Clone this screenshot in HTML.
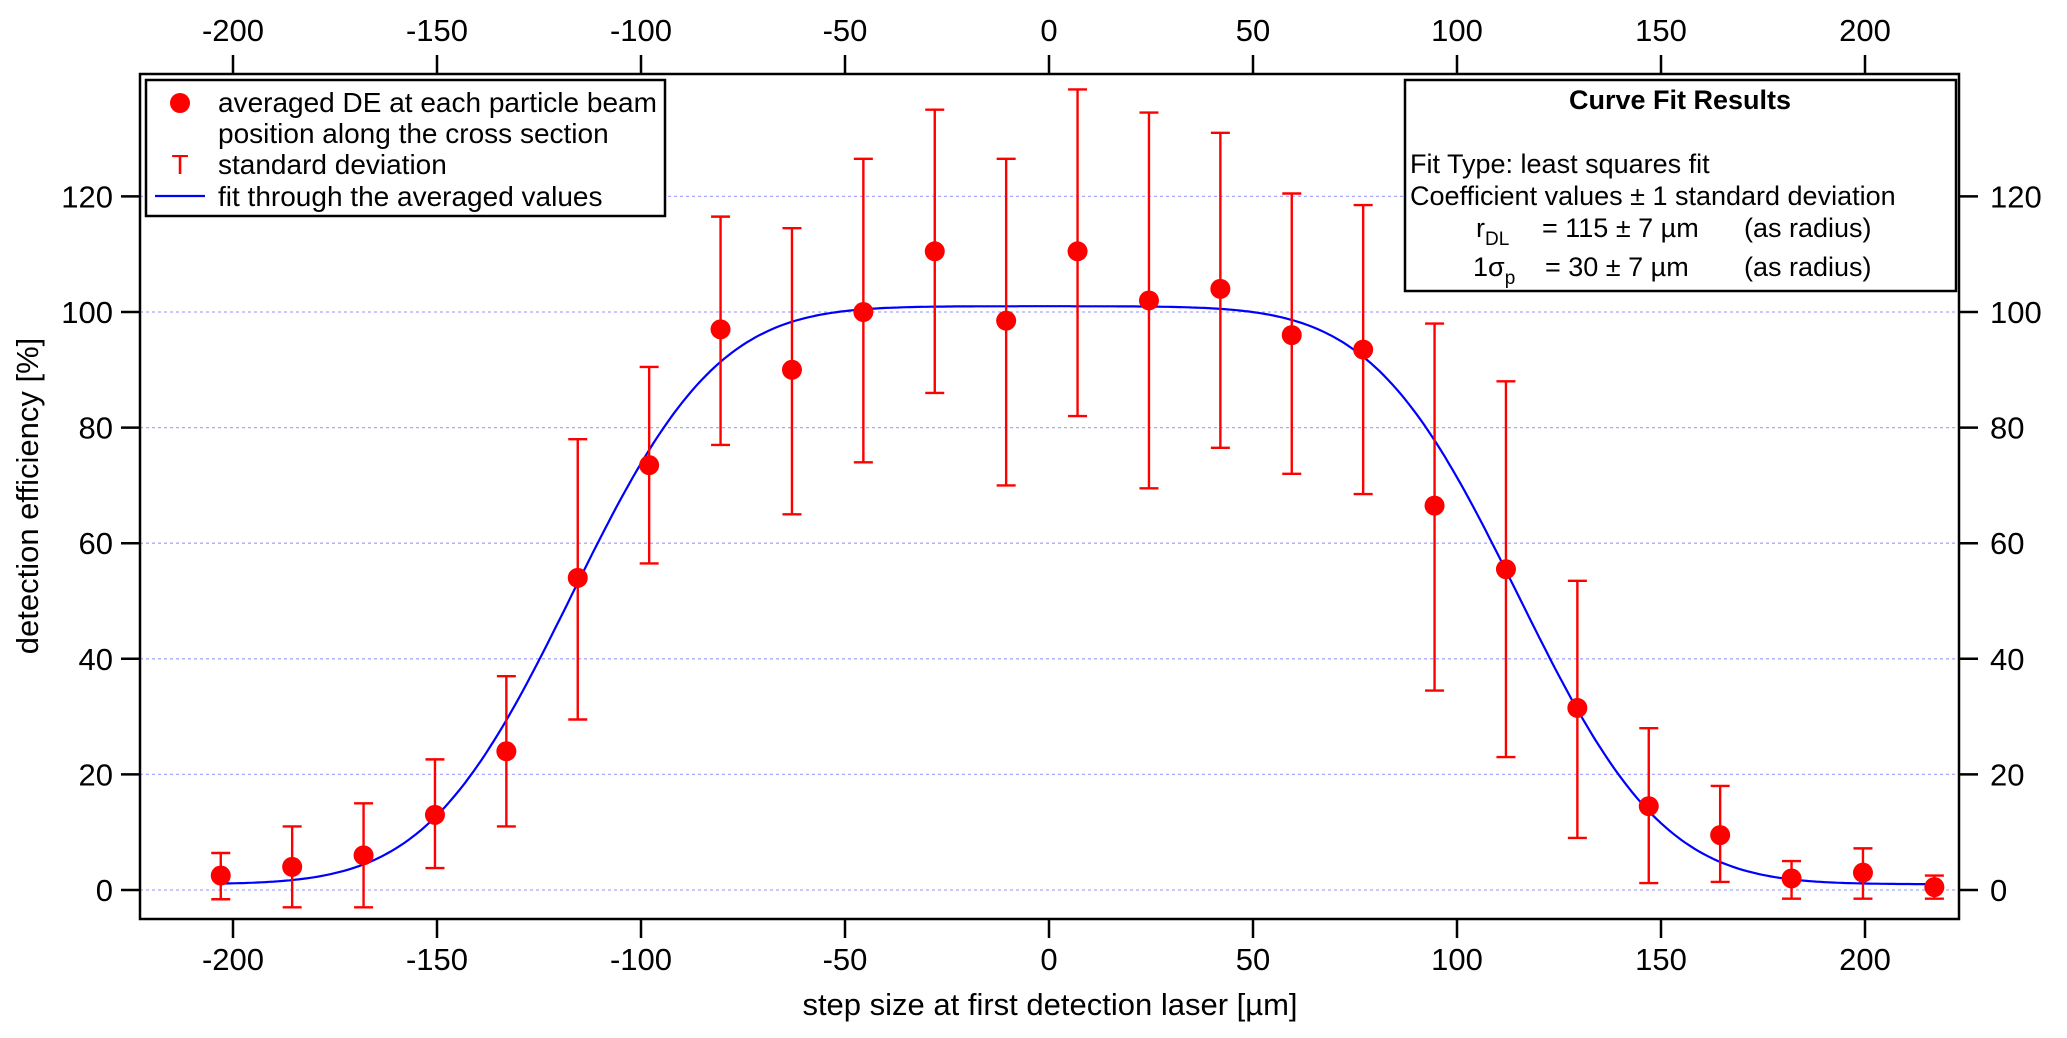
<!DOCTYPE html>
<html><head><meta charset="utf-8"><style>
html,body{margin:0;padding:0;background:#fff;}
svg{display:block;font-family:"Liberation Sans",Arial,sans-serif;}
</style></head><body>
<svg id="chart" width="2067" height="1038" viewBox="0 0 2067 1038" xmlns="http://www.w3.org/2000/svg">
<rect x="0" y="0" width="2067" height="1038" fill="#fff"/>
<g id="grid"></g>
<g id="fit"></g>
<g id="errs"></g>
<g id="pts"></g>
<rect x="140" y="74" width="1819" height="845" fill="none" stroke="#000" stroke-width="2.5"/>
<g id="axes"></g>
<text transform="translate(38,496) rotate(-90)" text-anchor="middle" font-size="31">detection efficiency [%]</text>
<text x="1050" y="1015" text-anchor="middle" font-size="31">step size at first detection laser [µm]</text>
<g>
<rect x="146" y="80" width="519" height="136" fill="#fff" stroke="#000" stroke-width="2.5"/>
<circle cx="180" cy="103" r="10" fill="#f00"/>
<text x="218" y="112" font-size="28">averaged DE at each particle beam</text>
<text x="218" y="143" font-size="28">position along the cross section</text>
<text x="180" y="174" font-size="28" fill="#f00" text-anchor="middle">T</text>
<text x="218" y="174" font-size="28">standard deviation</text>
<line x1="155" y1="196" x2="205" y2="196" stroke="#00f" stroke-width="2.2"/>
<text x="218" y="206" font-size="28">fit through the averaged values</text>
</g>
<g>
<rect x="1405" y="80" width="551" height="211" fill="#fff" stroke="#000" stroke-width="2.5"/>
<text x="1680" y="109" font-size="27" font-weight="bold" text-anchor="middle">Curve Fit Results</text>
<text x="1410" y="173" font-size="27">Fit Type: least squares fit</text>
<text x="1410" y="205" font-size="27">Coefficient values ± 1 standard deviation</text>
<text x="1476" y="237" font-size="27">r<tspan font-size="19" dy="8">DL</tspan></text>
<text x="1542" y="237" font-size="27">= 115 ± 7 µm</text>
<text x="1744" y="237" font-size="27">(as radius)</text>
<text x="1473" y="276" font-size="27">1σ<tspan font-size="19" dy="8">p</tspan></text>
<text x="1545" y="276" font-size="27">=  30 ± 7 µm</text>
<text x="1744" y="276" font-size="27">(as radius)</text>
</g>
</svg>
<script>
const xVals=[-203,-185.5,-168,-150.5,-133,-115.5,-98,-80.5,-63,-45.5,-28,-10.5,7,24.5,42,59.5,77,94.5,112,129.5,147,164.5,182,199.5,217];
const deMeans=[2.5,4,6,13,24,54,73.5,97,90,100,110.5,98.5,110.5,102,104,96,93.5,66.5,55.5,31.5,14.5,9.5,2,3,0.5];
const deUpper=[6.4,11,15,22.6,37,78,90.5,116.5,114.5,126.5,135,126.5,138.5,134.5,131,120.5,118.5,98,88,53.5,28,18,5,7.2,2.5];
const deLower=[-1.6,-3,-3,3.8,11,29.5,56.5,77,65,74,86,70,82,69.5,76.5,72,68.5,34.5,23,9,1.2,1.4,-1.5,-1.5,-1.5];
const xTicks=[-200,-150,-100,-50,0,50,100,150,200];
const yTicks=[0,20,40,60,80,100,120];
const fitCenter=[-1];
const fitRadius=[116];
const fitSigma=[28];
const fitAmp=[100];
const fitBase=[1];
const NS="http://www.w3.org/2000/svg";
const xs=v=>1049+v*4.08;
const ys=v=>890-v*5.78;
function mk(tag,attrs,parent){const e=document.createElementNS(NS,tag);for(const k in attrs)e.setAttribute(k,attrs[k]);parent.appendChild(e);return e;}
function erf(x){const s=Math.sign(x);x=Math.abs(x);const t=1/(1+0.3275911*x);const y=1-(((((1.061405429*t-1.453152027)*t)+1.421413741)*t-0.284496736)*t+0.254829592)*t*Math.exp(-x*x);return s*y;}
const grid=document.getElementById('grid'),axes=document.getElementById('axes');
yTicks.forEach(v=>{
  const g=mk('line',{x1:140,x2:1959,y1:ys(v),y2:ys(v),stroke:'#a8a8ff','stroke-width':1.3,'stroke-dasharray':'3,3'},grid);
  
  
  const t1=mk('line',{x1:121,x2:140,y1:ys(v),y2:ys(v),stroke:'#000','stroke-width':2.5},axes);
  
  
  const t2=mk('line',{x1:1959,x2:1978,y1:ys(v),y2:ys(v),stroke:'#000','stroke-width':2.5},axes);
  
  
  const l1=mk('text',{x:113,y:ys(v)+11,'text-anchor':'end','font-size':31},axes);l1.textContent=v;
  
  
  const l2=mk('text',{x:1990,y:ys(v)+11,'font-size':31},axes);l2.textContent=v;
  
  
});
xTicks.forEach(v=>{
  const x=xs(v);
  const b=mk('line',{x1:x,x2:x,y1:919,y2:938,stroke:'#000','stroke-width':2.5},axes);
  
  
  const t=mk('line',{x1:x,x2:x,y1:55,y2:74,stroke:'#000','stroke-width':2.5},axes);
  
  
  const lb=mk('text',{x:x,y:970,'text-anchor':'middle','font-size':31},axes);lb.textContent=v;
  
  
  const lt=mk('text',{x:x,y:41,'text-anchor':'middle','font-size':31},axes);lt.textContent=v;
  
  
});
const fit=document.getElementById('fit');
let d='';
for(let v=xVals[0];v<=xVals[xVals.length-1];v+=1){
  const s=Math.SQRT2*fitSigma[0];
  const y=fitBase[0]+fitAmp[0]*0.5*(erf((v-fitCenter[0]+fitRadius[0])/s)-erf((v-fitCenter[0]-fitRadius[0])/s));
  d+=(d?'L':'M')+xs(v).toFixed(1)+','+ys(y).toFixed(1);
}
const fp=mk('path',{d:d,fill:'none',stroke:'#00f','stroke-width':2.2},fit);


const errs=document.getElementById('errs'),pts=document.getElementById('pts');
xVals.forEach((v,i)=>{
  const x=xs(v),yt=ys(deUpper[i]),yb=ys(deLower[i]);
  const e=mk('path',{d:`M${x},${yt}L${x},${yb}M${x-9.5},${yt}L${x+9.5},${yt}M${x-9.5},${yb}L${x+9.5},${yb}`,stroke:'#f00','stroke-width':2.4,fill:'none'},errs);
  
  
  const c=mk('circle',{cx:x,cy:ys(deMeans[i]),r:10,fill:'#f00'},pts);
  
  
});
</script>
</body></html>
